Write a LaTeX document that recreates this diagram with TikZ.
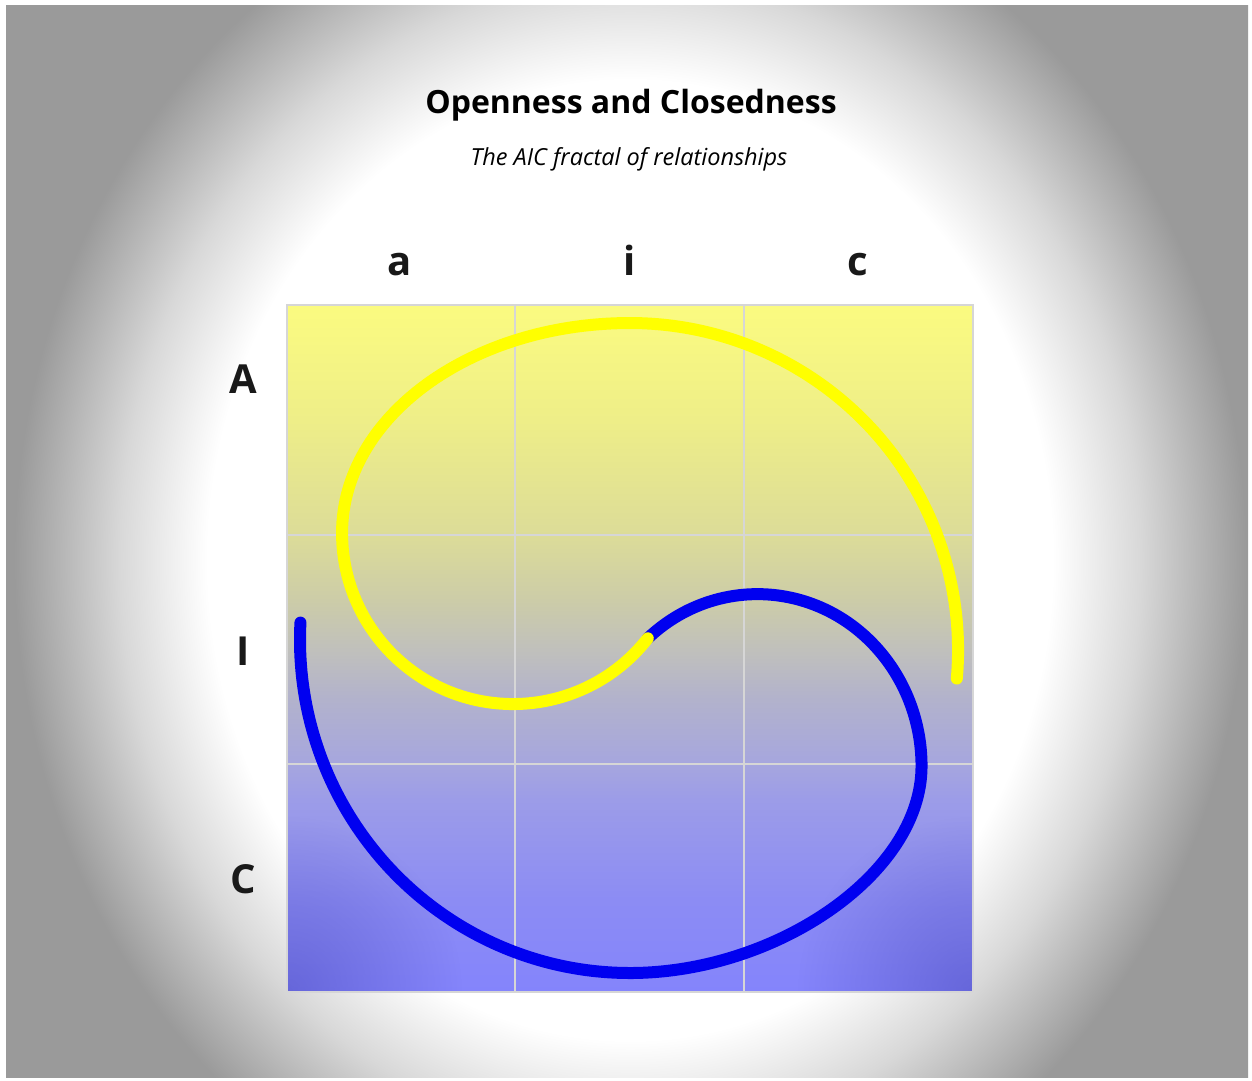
\documentclass[tikz,border=0pt]{standalone}
\usepackage{fontspec}
\setmainfont{Open Sans}
\usepackage{tikz}
\usetikzlibrary{fadings}

% colours
\definecolor{bgdark}{HTML}{9A9A9A}
\definecolor{bgmid}{HTML}{D8D8D8}
\definecolor{gridgray}{HTML}{D6D6D6}
\definecolor{arcyellow}{HTML}{FFFF00}
\definecolor{arcblue}{HTML}{0000F0}
\definecolor{bandA}{HTML}{8484FC}
\definecolor{bandB}{HTML}{8C8CF4}
\definecolor{bandC}{HTML}{9C9CE8}
\definecolor{bandD}{HTML}{A6A6DE}
\definecolor{bandE}{HTML}{B2B2CC}
\definecolor{bandF}{HTML}{C0C0BC}
\definecolor{bandG}{HTML}{CCCCA8}
\definecolor{bandH}{HTML}{DCDC98}
\definecolor{bandI}{HTML}{EEEE88}
\definecolor{bandJ}{HTML}{FBFB80}
\definecolor{cornerblue}{HTML}{4848B8}

\pgfdeclareradialshading{glow}{\pgfpoint{0bp}{0bp}}{color(0bp)=(white); color(12bp)=(white); color(14.5bp)=(bgmid); color(17.5bp)=(bgdark); color(25bp)=(bgdark); color(50bp)=(bgdark)}
\pgfdeclareverticalshading{aicband}{100bp}{color(0bp)=(bandA); color(25bp)=(bandA); color(31.7bp)=(bandB); color(39bp)=(bandC); color(41.6bp)=(bandD); color(46.3bp)=(bandE); color(49.9bp)=(bandF); color(53.5bp)=(bandG); color(58.3bp)=(bandH); color(66.6bp)=(bandI); color(75bp)=(bandJ); color(100bp)=(bandJ)}
\tikzfading[name=cornerfade, inner color=transparent!0, outer color=transparent!100]

\tikzset{
  gridline/.style={draw=gridgray, line width=2pt},
  arcline/.style={line width=12pt, line cap=round, line join=round},
  axislabel/.style={font=\fontsize{40}{48}\selectfont\bfseries, anchor=base, text=black!90},
  corner/.style={fill=cornerblue, fill opacity=0.5, path fading=cornerfade}
}

\begin{document}
\begin{tikzpicture}[x=1pt, y=-1pt]
    \useasboundingbox (0,0) rectangle (1252,1080);

    % Backdrop
    \fill[white] (0,0) rectangle (1252,1080);
    \begin{scope}
        \clip (6,5) rectangle (1248,1077);
        \shade[shading=glow] (-250,-440) rectangle (1510,1560);
    \end{scope}

    % Titles
    \node[anchor=base, font=\fontsize{32}{38}\selectfont\bfseries] (title) at (631,113) {Openness and Closedness};
    \node[anchor=base, font=\fontsize{23.5}{28}\selectfont\itshape] (subtitle) at (629,165) {The AIC fractal of relationships};

    % Board
    \shade[shading=aicband] (287,305) rectangle (973,992);
    \begin{scope}
        \clip (287,305) rectangle (973,992);
        \fill[corner] (287,992) circle (175);
        \fill[corner] (973,992) circle (175);
    \end{scope}
    \foreach \gx in {515,744}
        \draw[gridline] (\gx,305) -- (\gx,992);
    \foreach \gy in {535,764}
        \draw[gridline] (287,\gy) -- (973,\gy);
    \draw[gridline] (287,305) rectangle (973,992);

    % Column labels
    \node[axislabel] (cola) at (400,275) {a};
    \node[axislabel] (coli) at (630,275) {i};
    \node[axislabel] (colc) at (858,275) {c};

    % Row labels
    \node[axislabel] (rowA) at (243,393) {A};
    \node[axislabel] (rowI) at (243,665) {I};
    \node[axislabel] (rowC) at (243,893) {C};

    % Meeting point of the two arms
    \coordinate (meet) at (647.8,638.3);

    % Blue arm
    \draw[arcline, arcblue] (meet)
        arc[start angle=228, end angle=360, x radius=164, y radius=172]
        .. controls +(0,108) and (775,973) .. (630,973)
        arc[start angle=90, end angle=183, x radius=330, y radius=333];

    % Yellow arm
    \draw[arcline, arcyellow] (meet)
        arc[start angle=38, end angle=180, radius=171]
        arc[start angle=180, end angle=270, x radius=288, y radius=210]
        arc[start angle=270, end angle=365, x radius=328, y radius=327];
\end{tikzpicture}
\end{document}
